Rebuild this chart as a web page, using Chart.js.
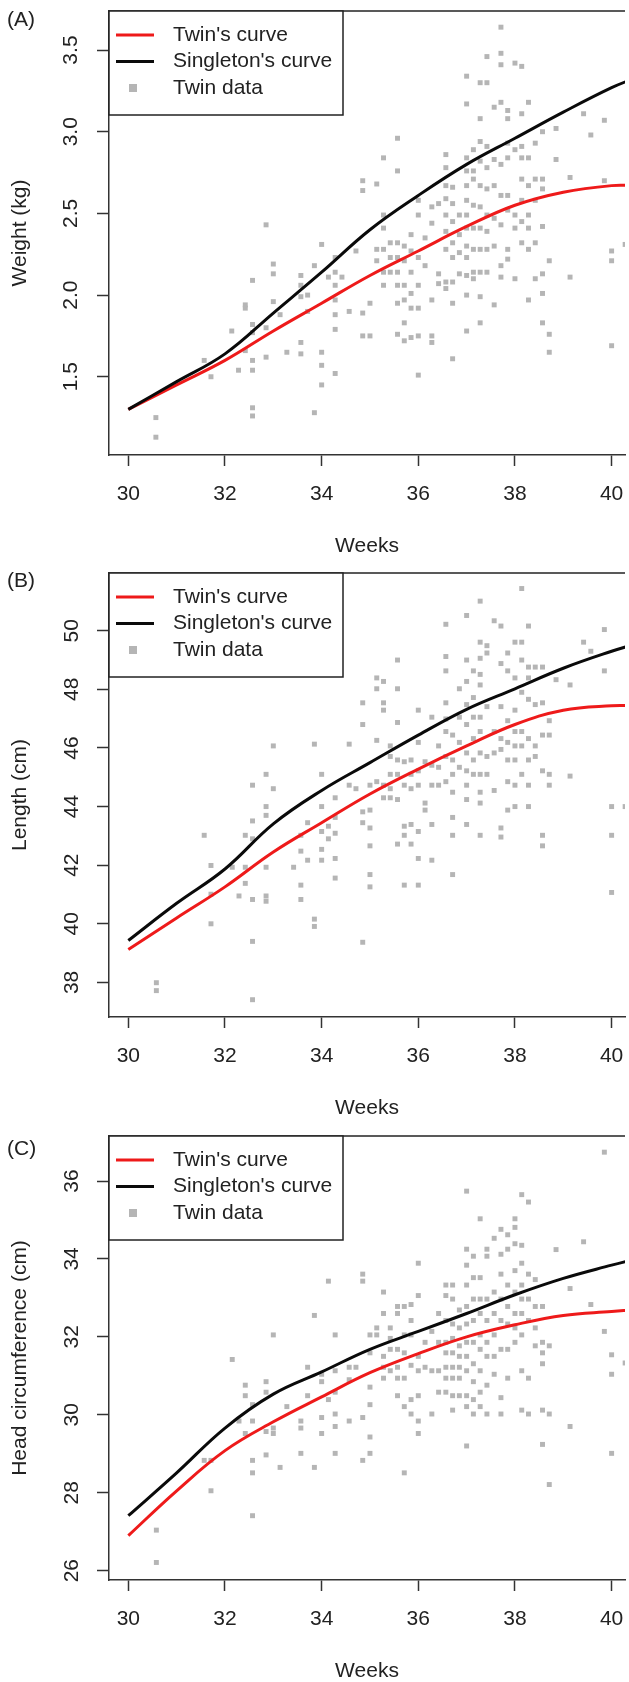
<!DOCTYPE html>
<html>
<head>
<meta charset="utf-8">
<script src="https://cdn.jsdelivr.net/npm/chart.js@4.4.0/dist/chart.umd.min.js"></script>
<style>
  body { margin: 0; background: #fff; width: 629px; height: 1682px; overflow: hidden; position: relative;
         font-family: "Liberation Sans", Arial, sans-serif; }
  .panel { position: absolute; left: 0; width: 629px; height: 562px; }
  .tag { position: absolute; left: 7px; font-size: 21px; line-height: 24px; color: #222; }
</style>
</head>
<body>
<div class="panel" style="top:0px"><canvas id="chartA" width="629" height="562"></canvas></div>
<div class="panel" style="top:562px"><canvas id="chartB" width="629" height="562"></canvas></div>
<div class="panel" style="top:1125px"><canvas id="chartC" width="629" height="562"></canvas></div>
<div class="tag" style="top:7px">(A)</div>
<div class="tag" style="top:568px">(B)</div>
<div class="tag" style="top:1136px">(C)</div>
<script>
var FONT = '"Liberation Sans", Arial, sans-serif';

// weeks where the fitted curves are read
var curveWeeks = [30, 31, 32, 33, 34, 35, 36, 37, 38, 39, 40, 40.5];
var weekTicks = [30, 32, 34, 36, 38, 40];

var weightTwin   = [1.30, 1.45, 1.60, 1.78, 1.95, 2.12, 2.27, 2.42, 2.55, 2.63, 2.67, 2.67];
var weightSingle = [1.30, 1.47, 1.64, 1.89, 2.14, 2.40, 2.61, 2.80, 2.96, 3.12, 3.27, 3.33];
var lengthTwin   = [39.12, 40.2, 41.26, 42.45, 43.45, 44.43, 45.28, 46.07, 46.8, 47.29, 47.44, 47.44];
var lengthSingle = [39.43, 40.7, 41.87, 43.41, 44.55, 45.5, 46.44, 47.32, 48.02, 48.72, 49.3, 49.55];
var headTwin     = [26.9, 28.05, 29.08, 29.82, 30.46, 31.08, 31.57, 32.0, 32.31, 32.55, 32.65, 32.7];
var headSingle   = [27.41, 28.51, 29.66, 30.53, 31.1, 31.68, 32.14, 32.6, 33.08, 33.5, 33.84, 34.0];

var weightTickLabels = ['1.5', '2.0', '2.5', '3.0', '3.5'];
var lengthTickLabels = ['38', '40', '42', '44', '46', '48', '50'];
var headTickLabels   = ['26', '28', '30', '32', '34', '36'];

// twin measurements, one row per gestational day: [week, values...]
var weightCols = [
  [30.57, 1.25, 1.13], [31.57, 1.60], [31.71, 1.50], [32.14, 1.78], [32.28, 1.54],
  [32.42, 1.94, 1.92, 1.66], [32.57, 2.09, 1.82, 1.77, 1.60, 1.54, 1.31, 1.26],
  [32.85, 2.43, 1.80, 1.62], [33.00, 2.19, 2.13, 1.96], [33.14, 1.88], [33.28, 1.65],
  [33.57, 2.12, 2.06, 1.99, 1.71, 1.64], [33.71, 2.00, 1.90], [33.85, 2.18, 1.28],
  [34.00, 2.31, 1.65, 1.57, 1.45], [34.14, 2.11], [34.28, 2.23, 2.14, 2.06, 1.97, 1.88, 1.79, 1.52],
  [34.42, 2.11], [34.57, 1.90], [34.71, 2.27], [34.85, 2.70, 2.64, 1.89, 1.75], [35.00, 1.95, 1.75],
  [35.14, 2.68, 2.28, 2.21], [35.28, 2.84, 2.49, 2.41, 2.28, 2.14, 2.06], [35.42, 2.32, 2.23, 2.14],
  [35.57, 2.96, 2.76, 2.32, 2.23, 2.14, 2.06, 1.95, 1.76], [35.71, 2.30, 2.21, 2.06, 1.97, 1.83, 1.72],
  [35.85, 2.37, 2.27, 2.14, 2.01, 1.92, 1.74], [36.00, 2.58, 2.49, 2.23, 2.06, 1.92, 1.75, 1.51],
  [36.14, 2.35, 2.18], [36.28, 2.54, 2.44, 1.97, 1.75, 1.71], [36.42, 2.56, 2.13, 2.07],
  [36.57, 2.86, 2.78, 2.67, 2.59, 2.49, 2.39, 2.28, 2.08, 2.04],
  [36.71, 2.66, 2.56, 2.45, 2.32, 2.23, 2.08, 1.95, 1.61], [36.85, 2.49, 2.37, 2.26, 2.13],
  [37.00, 3.34, 3.17, 2.84, 2.76, 2.67, 2.58, 2.49, 2.41, 2.30, 2.23, 2.12, 2.00, 1.78],
  [37.14, 2.89, 2.76, 2.71, 2.55, 2.41, 2.28, 2.14, 2.10],
  [37.28, 3.30, 3.08, 2.94, 2.82, 2.67, 2.54, 2.41, 2.28, 2.14, 1.99, 1.83],
  [37.42, 3.46, 3.30, 2.91, 2.78, 2.65, 2.49, 2.39, 2.28, 2.14], [37.57, 3.15, 2.83, 2.67, 2.47, 2.30, 1.94],
  [37.71, 3.64, 3.48, 3.41, 3.18, 2.80, 2.61, 2.43, 2.18, 2.11],
  [37.85, 3.13, 3.08, 2.93, 2.84, 2.61, 2.52, 2.28, 2.22], [38.00, 3.42, 2.89, 2.49, 2.41, 2.10],
  [38.14, 3.40, 3.11, 2.91, 2.84, 2.71, 2.58, 2.45, 2.32], [38.28, 3.18, 2.84, 2.67, 2.49, 2.41, 2.28, 1.97],
  [38.42, 2.93, 2.71, 2.58, 2.32, 2.10], [38.57, 3.00, 2.71, 2.65, 2.42, 2.13, 2.01, 1.83],
  [38.71, 2.21, 1.76, 1.65], [38.85, 3.02, 2.83], [39.14, 2.72, 2.11], [39.42, 3.11], [39.57, 2.98],
  [39.85, 3.07, 2.70], [40.00, 2.27, 2.21, 1.69], [40.28, 2.31]
];

var lengthCols = [
  [30.58, 37.99, 37.72], [31.57, 43.02], [31.71, 41.99, 41.01, 40.0], [32.15, 41.93], [32.29, 40.95],
  [32.42, 43.02, 41.93, 41.38], [32.57, 44.73, 43.51, 42.9, 40.83, 39.4, 37.41],
  [32.85, 45.1, 44.0, 43.7, 41.93, 40.95, 40.77], [33.0, 46.07, 44.61], [33.42, 41.93],
  [33.57, 43.02, 42.48, 41.32, 40.83], [33.71, 43.45, 42.17], [33.85, 46.13, 40.16, 39.91],
  [34.0, 45.1, 44.0, 43.15, 42.54, 42.17], [34.14, 43.33, 42.9], [34.28, 44.3, 43.63, 43.09, 42.23, 41.56],
  [34.57, 46.13, 44.73], [34.71, 44.61], [34.85, 47.54, 46.8, 43.82, 43.45, 39.37],
  [35.0, 44.73, 43.88, 43.27, 42.66, 41.68, 41.26], [35.14, 48.39, 48.02, 46.26, 44.85],
  [35.28, 48.27, 47.54, 47.29, 44.73, 44.3], [35.42, 46.07, 45.71, 45.1, 44.61, 44.3],
  [35.57, 49.0, 48.02, 46.87, 45.59, 45.1, 44.24, 42.72], [35.71, 45.53, 44.73, 43.33, 43.02, 41.32],
  [35.85, 45.59, 45.1, 44.61, 43.39, 42.72], [36.0, 47.29, 46.19, 45.22, 44.73, 43.15, 42.23, 41.32],
  [36.14, 45.53, 44.12, 43.88], [36.28, 47.05, 45.41, 44.73, 43.39, 42.17], [36.42, 46.07, 45.34, 44.73],
  [36.57, 50.22, 49.12, 48.63, 47.54, 46.99, 46.56, 45.71, 44.85],
  [36.71, 46.44, 45.59, 45.1, 44.49, 43.63, 43.02, 41.68], [36.85, 48.02, 47.05, 46.19, 45.34],
  [37.0, 50.52, 49.0, 48.27, 47.48, 46.8, 45.83, 45.22, 44.73, 44.24, 43.39],
  [37.14, 48.63, 47.72, 47.05, 46.32, 45.59, 45.1],
  [37.28, 51.01, 49.61, 49.06, 48.51, 48.15, 47.05, 46.56, 45.83, 45.1, 44.49, 44.12, 43.02],
  [37.42, 49.49, 49.24, 47.41, 45.71, 45.1], [37.57, 50.34, 46.56, 45.83, 44.55],
  [37.71, 50.16, 48.88, 47.41, 46.32, 45.95, 43.27, 42.96],
  [37.85, 49.24, 48.63, 46.93, 46.19, 45.59, 44.85, 43.88],
  [38.0, 49.61, 48.39, 47.29, 46.56, 46.07, 45.59, 44.73, 44.0],
  [38.14, 51.44, 49.61, 49.0, 47.9, 46.56, 46.07, 45.1],
  [38.28, 50.16, 48.76, 48.39, 47.66, 46.32, 45.59, 44.73, 44.0], [38.42, 48.76, 47.48, 46.07, 45.71],
  [38.57, 48.76, 47.54, 46.44, 45.22, 43.02, 42.66], [38.71, 46.93, 46.44, 45.1, 44.73], [38.85, 48.33],
  [39.14, 48.15, 45.04], [39.42, 49.61], [39.57, 49.3], [39.85, 50.04, 48.63], [40.0, 44.0, 43.02, 41.07],
  [40.28, 44.0]
];

var headCols = [
  [30.58, 27.04, 26.21], [31.57, 28.83], [31.71, 28.83, 28.05], [32.15, 31.42], [32.29, 29.84],
  [32.42, 30.76, 30.49, 29.52], [32.57, 30.26, 29.84, 28.83, 28.51, 27.41], [32.85, 30.85, 30.58, 29.57, 28.97],
  [33.0, 32.05, 29.66, 29.52], [33.14, 28.65], [33.28, 30.21], [33.57, 29.84, 29.66, 29.01],
  [33.71, 31.22, 30.49], [33.85, 32.55, 28.65], [34.0, 31.04, 30.85, 29.93, 29.52], [34.14, 33.43, 30.39],
  [34.28, 32.05, 31.13, 30.58, 30.02, 29.7, 29.01], [34.57, 31.22, 30.9, 29.84], [34.71, 31.22],
  [34.85, 33.61, 33.43, 29.93, 28.83], [35.0, 32.05, 31.59, 30.71, 30.26, 29.43, 29.01], [35.14, 32.05, 32.23],
  [35.28, 33.15, 32.6, 31.5, 31.22, 30.94], [35.42, 32.23, 31.96, 31.68, 31.13],
  [35.57, 32.78, 32.6, 31.68, 31.22, 30.94, 30.49], [35.71, 32.78, 32.05, 31.59, 30.94, 30.21, 28.51],
  [35.85, 32.83, 32.42, 32.05, 31.27, 30.39, 30.02], [36.0, 33.89, 33.06, 31.5, 31.13, 30.49, 29.84, 29.52],
  [36.14, 31.86, 31.22], [36.28, 32.14, 31.13, 30.02], [36.42, 32.6, 31.86, 31.13, 30.58],
  [36.57, 33.33, 33.06, 32.42, 31.86, 31.59, 31.22, 30.94, 30.58],
  [36.71, 33.33, 32.97, 32.33, 31.96, 31.59, 31.22, 30.94, 30.49, 30.12],
  [36.85, 32.69, 32.23, 31.77, 31.5, 31.22, 30.94, 30.49],
  [37.0, 35.74, 34.25, 33.84, 33.33, 32.78, 32.33, 31.86, 31.5, 31.13, 30.49, 30.21, 29.2],
  [37.14, 34.07, 33.52, 32.97, 32.42, 31.86, 31.31, 30.85, 30.39, 30.02],
  [37.28, 35.03, 33.52, 32.97, 32.6, 32.05, 31.68, 31.13, 30.58, 30.21],
  [37.42, 34.25, 34.07, 32.97, 32.42, 31.86, 31.5, 30.76, 30.02], [37.57, 34.53, 33.15, 32.6, 32.05, 31.5, 31.04],
  [37.71, 34.76, 34.12, 33.61, 32.97, 32.42, 31.68, 30.44, 30.02],
  [37.85, 34.62, 34.25, 33.33, 32.78, 32.33, 31.68, 30.94],
  [38.0, 35.03, 34.81, 34.39, 33.7, 33.15, 32.6, 32.23, 31.86],
  [38.14, 35.65, 34.35, 33.89, 33.33, 32.97, 32.6, 32.05, 31.13, 30.12],
  [38.28, 35.46, 33.61, 32.97, 32.42, 30.94, 30.02], [38.42, 33.47, 32.78, 32.23, 31.77],
  [38.57, 32.78, 31.86, 31.59, 31.31, 30.12, 29.24], [38.71, 31.77, 30.02, 28.21], [38.85, 34.24],
  [39.14, 33.24, 29.7], [39.42, 34.44], [39.57, 32.83], [39.85, 36.74, 32.14], [40.0, 31.54, 31.04, 29.01],
  [40.28, 31.33]
];

function curvePoints(values) {
  return curveWeeks.map(function(w, i) { return {x: w, y: values[i]}; });
}

function columnPoints(cols) {
  var pts = [];
  cols.forEach(function(c) {
    for (var i = 1; i < c.length; i++) pts.push({x: c[0], y: c[i]});
  });
  return pts;
}

// frame top edge and the boxed legend in the upper left corner
var boxLegend = {
  id: 'boxLegend',
  afterDraw: function(chart) {
    var ctx = chart.ctx, a = chart.chartArea;
    ctx.save();
    ctx.strokeStyle = '#222';
    ctx.lineWidth = 1.5;
    ctx.beginPath();
    ctx.moveTo(a.left, a.top);
    ctx.lineTo(a.right, a.top);
    ctx.stroke();

    var x0 = a.left, y0 = a.top;
    ctx.fillStyle = '#fff';
    ctx.fillRect(x0, y0, 234, 104);
    ctx.strokeRect(x0, y0, 234, 104);
    ctx.font = '21px ' + FONT;
    ctx.textBaseline = 'middle';
    chart.data.datasets.forEach(function(ds, i) {
      var y = y0 + 24 + i * 26.5;
      if (ds.showLine) {
        ctx.strokeStyle = ds.borderColor;
        ctx.lineWidth = 3;
        ctx.beginPath();
        ctx.moveTo(x0 + 7, y);
        ctx.lineTo(x0 + 45, y);
        ctx.stroke();
      } else {
        ctx.fillStyle = ds.backgroundColor;
        ctx.fillRect(x0 + 20, y - 4, 8, 8);
      }
      ctx.fillStyle = '#222';
      ctx.fillText(ds.label, x0 + 64, y);
    });
    ctx.restore();
  }
};

function makeChart(id, twin, single, cols, yMin, yMax, tickLabels, yTitle, tickPad) {
  return new Chart(document.getElementById(id), {
    type: 'scatter',
    data: {
      datasets: [{
        label: "Twin's curve",
        data: curvePoints(twin),
        showLine: true,
        borderColor: '#ee1a1a',
        borderWidth: 3,
        pointRadius: 0,
        tension: 0.4,
        order: 1
      }, {
        label: "Singleton's curve",
        data: curvePoints(single),
        showLine: true,
        borderColor: '#0a0a0a',
        borderWidth: 3,
        pointRadius: 0,
        tension: 0.4,
        order: 0
      }, {
        label: 'Twin data',
        data: columnPoints(cols),
        pointStyle: 'rect',
        pointRadius: 3.5,
        borderWidth: 0,
        backgroundColor: '#b5b5b5',
        order: 2
      }]
    },
    options: {
      responsive: false,
      animation: false,
      events: [],
      layout: { padding: { top: 11, right: 0, bottom: 0, left: 0 } },
      plugins: { legend: { display: false }, tooltip: { enabled: false } },
      scales: {
        x: {
          type: 'linear',
          min: 29.6,
          max: 40.277,
          afterBuildTicks: function(s) { s.ticks = weekTicks.map(function(v) { return {value: v}; }); },
          afterFit: function(s) { s.height = 107; s.paddingLeft = 0; s.paddingRight = 0; },
          ticks: { font: { family: FONT, size: 21 }, color: '#222', padding: 16, maxRotation: 0, autoSkip: false },
          grid: { drawOnChartArea: false, color: '#333', tickLength: 11, tickWidth: 1.5 },
          border: { color: '#333', width: 1.5 },
          title: { display: true, text: 'Weeks', color: '#222', font: { family: FONT, size: 21 },
                   padding: { top: 0, bottom: 3 } }
        },
        y: {
          type: 'linear',
          min: yMin,
          max: yMax,
          afterBuildTicks: function(s) { s.ticks = tickLabels.map(function(t) { return {value: parseFloat(t)}; }); },
          afterFit: function(s) { s.width = 109; s.paddingTop = 0; s.paddingBottom = 0; },
          ticks: {
            font: { family: FONT, size: 21 }, color: '#222', padding: tickPad,
            minRotation: 90, maxRotation: 90, crossAlign: 'center', autoSkip: false,
            callback: function(v) {
              for (var i = 0; i < tickLabels.length; i++) if (parseFloat(tickLabels[i]) === v) return tickLabels[i];
              return '';
            }
          },
          grid: { drawOnChartArea: false, color: '#333', tickLength: 12, tickWidth: 1.5 },
          border: { color: '#333', width: 1.5 },
          title: { display: true, text: yTitle, color: '#222', font: { family: FONT, size: 21 },
                   padding: { top: 8, bottom: 0 } }
        }
      }
    },
    plugins: [boxLegend]
  });
}

makeChart('chartA', weightTwin, weightSingle, weightCols, 1.021, 3.739, weightTickLabels, 'Weight (kg)', 11);
makeChart('chartB', lengthTwin, lengthSingle, lengthCols, 36.82, 51.97, lengthTickLabels, 'Length (cm)', 13);
makeChart('chartC', headTwin, headSingle, headCols, 25.76, 37.155, headTickLabels, 'Head circumference (cm)', 13);
</script>
</body>
</html>
